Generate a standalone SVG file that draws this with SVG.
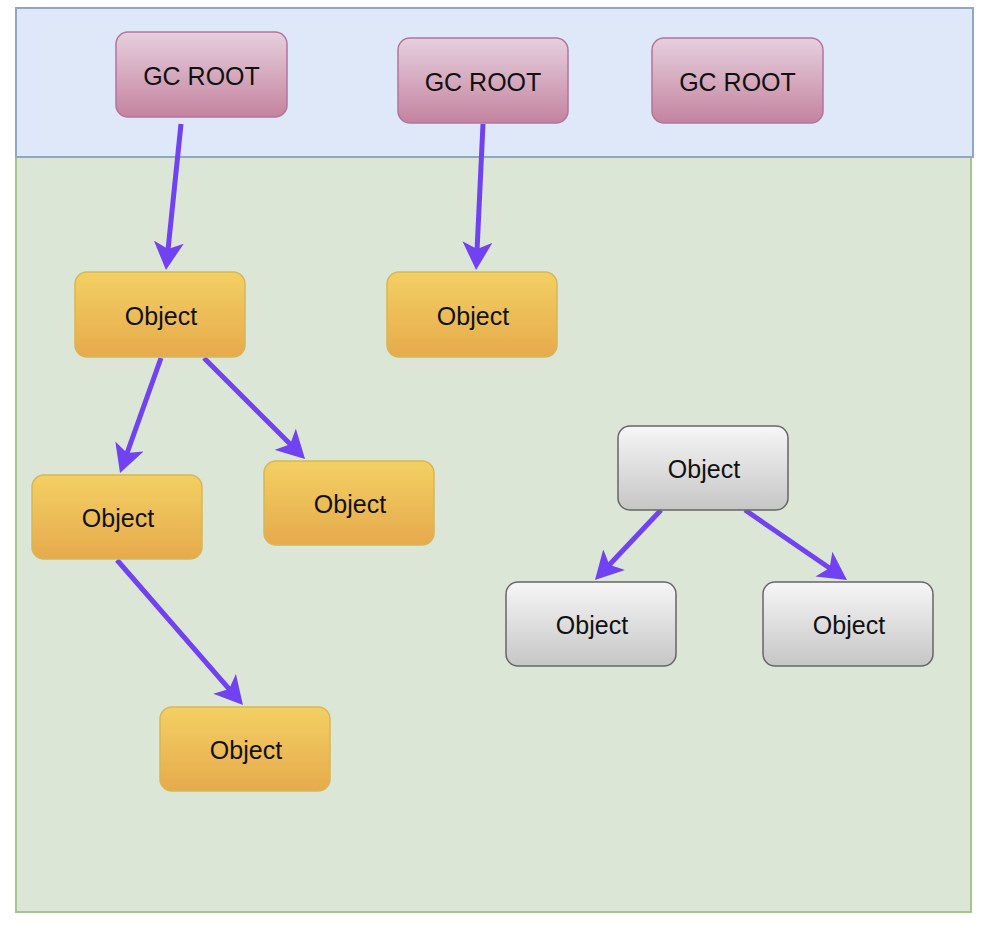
<svg xmlns="http://www.w3.org/2000/svg" width="986" height="928" viewBox="0 0 986 928">
<defs>
<linearGradient id="gRoot" x1="0" y1="0" x2="0" y2="1"><stop offset="0" stop-color="#e6d0de"/><stop offset="1" stop-color="#c4839f"/></linearGradient>
<linearGradient id="gObj" x1="0" y1="0" x2="0" y2="1"><stop offset="0" stop-color="#f3d063"/><stop offset="1" stop-color="#e6aa4c"/></linearGradient>
<linearGradient id="gGray" x1="0" y1="0" x2="0" y2="1"><stop offset="0" stop-color="#f6f6f6"/><stop offset="1" stop-color="#c6c6c6"/></linearGradient>
<marker id="arr" markerUnits="userSpaceOnUse" viewBox="0 0 28 30" markerWidth="28" markerHeight="30" refX="9" refY="15" orient="auto"><path d="M0,0 L28,15 L0,30 L7,15 z" fill="#7042f2"/></marker>
<style>
.root{fill:url(#gRoot);stroke:#b5739d;stroke-width:1.5}
.obj{fill:url(#gObj);stroke:#d6b656;stroke-width:1.5}
.gray{fill:url(#gGray);stroke:#666666;stroke-width:1.5}
text{font-family:"Liberation Sans",Arial,sans-serif;font-size:25px;fill:#111;text-anchor:middle}
.edge{stroke:#7042f2;stroke-width:5;fill:none;marker-end:url(#arr)}
</style>
</defs>
<g id="panels">
<rect x="16" y="157" width="955" height="755" fill="#dce6d6" stroke="#a6c48c" stroke-width="2"/>
<rect x="16" y="8" width="957" height="149" fill="#dee8f8" stroke="#8ea6c8" stroke-width="2"/>
</g>
<g id="connectors">
<path class="edge" d="M181,124 L167.9,251.1"/>
<path class="edge" d="M483,124 L477,251"/>
<path class="edge" d="M161,358 L126.4,455"/>
<path class="edge" d="M204,358 L291.6,445.6"/>
<path class="edge" d="M117,560 L230.5,690.6"/>
<path class="edge" d="M661,510 L608,566.2"/>
<path class="edge" d="M745,510 L831.3,569.2"/>
</g>
<g id="root1"><rect class="root" x="116" y="32" width="171" height="85" rx="12"/><text x="201.5" y="85">GC ROOT</text></g>
<g id="root2"><rect class="root" x="398" y="38" width="170" height="85" rx="12"/><text x="483" y="91">GC ROOT</text></g>
<g id="root3"><rect class="root" x="652" y="38" width="171" height="85" rx="12"/><text x="737.5" y="91">GC ROOT</text></g>
<g id="obj1"><rect class="obj" x="75" y="272" width="170" height="85" rx="12"/><text x="161" y="325">Object</text></g>
<g id="obj2"><rect class="obj" x="387" y="272" width="170" height="85" rx="12"/><text x="473" y="325">Object</text></g>
<g id="obj3"><rect class="obj" x="32" y="475" width="170" height="84" rx="12"/><text x="118" y="527">Object</text></g>
<g id="obj4"><rect class="obj" x="264" y="461" width="170" height="84" rx="12"/><text x="350" y="513">Object</text></g>
<g id="obj5"><rect class="obj" x="160" y="707" width="170" height="84" rx="12"/><text x="246" y="759">Object</text></g>
<g id="gray1"><rect class="gray" x="618" y="426" width="170" height="84" rx="12"/><text x="704" y="478">Object</text></g>
<g id="gray2"><rect class="gray" x="506" y="582" width="170" height="84" rx="12"/><text x="592" y="634">Object</text></g>
<g id="gray3"><rect class="gray" x="763" y="582" width="170" height="84" rx="12"/><text x="849" y="634">Object</text></g>
</svg>
